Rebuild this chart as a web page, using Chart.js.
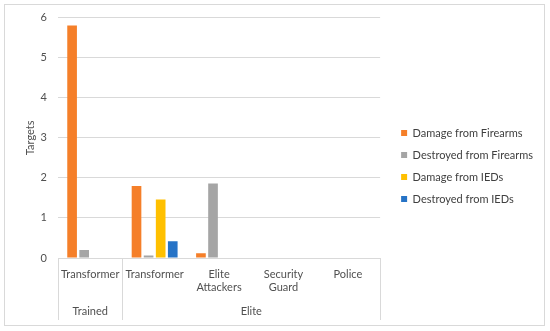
<!DOCTYPE html>
<html>
<head>
<meta charset="utf-8">
<script src="https://cdn.jsdelivr.net/npm/chart.js@4.4.1/dist/chart.umd.min.js"></script>
<style>
    body { margin: 0; background: #fff; }
    #wrap { position: relative; width: 550px; height: 331px; }
    #frame { position: absolute; left: 4px; top: 4px; width: 541px; height: 322px; border: 1px solid #d9d9d9; box-sizing: border-box; }
    #chartDiv { position: absolute; left: 0; top: 0; width: 550px; height: 331px; }
</style>
</head>
<body>
<div id="wrap">
    <div id="frame"></div>
    <div id="chartDiv"><canvas id="targetsChart"></canvas></div>
</div>
<script>
//Category labels (second row is the group each one belongs to)
const categoryLabels = ['Transformer', 'Transformer', ['Elite', 'Attackers'], ['Security', 'Guard'], 'Police'];
const groupLabels = ['Trained', 'Elite'];
const groupSizes = [1, 4];

const damageFirearms = [5.8, 1.8, 0.12, 0, 0];
const destroyedFirearms = [0.2, 0.06, 1.86, 0, 0];
const damageIEDs = [0, 1.46, 0, 0, 0];
const destroyedIEDs = [0, 0.42, 0, 0, 0];

const yTicks = [0, 1, 2, 3, 4, 5, 6];

const fontFamily = 'Lato, "Open Sans", sans-serif';
const textColor = '#505050';
const lineColor = '#d9d9d9';

//Group centres and boundaries in category units
let groupCenters = [];
let groupBounds = [0];
let start = 0;
for (let i = 0; i < groupSizes.length; i++) {
    groupCenters[i] = start + groupSizes[i] / 2;
    start += groupSizes[i];
    groupBounds.push(start);
}

const groupLines = {
    id: 'groupLines',
    afterDraw: function (chart) {
        let ctx = chart.ctx;
        let xScale = chart.scales.x;
        let gScale = chart.scales.group;
        ctx.save();
        ctx.strokeStyle = lineColor;
        ctx.lineWidth = 1;
        groupBounds.forEach(function (b) {
            let x = Math.round(xScale.getPixelForValue(b - 0.5)) + 0.5;
            ctx.beginPath();
            ctx.moveTo(x, chart.chartArea.bottom);
            ctx.lineTo(x, gScale.bottom);
            ctx.stroke();
        });
        ctx.restore();
    }
};

new Chart(document.getElementById('targetsChart'), {
    type: 'bar',
    data: {
        labels: categoryLabels,
        datasets: [
            { label: 'Damage from Firearms', data: damageFirearms, backgroundColor: '#f57f29' },
            { label: 'Destroyed from Firearms', data: destroyedFirearms, backgroundColor: '#a5a5a5' },
            { label: 'Damage from IEDs', data: damageIEDs, backgroundColor: '#ffc000' },
            { label: 'Destroyed from IEDs', data: destroyedIEDs, backgroundColor: '#2673c6' }
        ]
    },
    options: {
        responsive: true,
        maintainAspectRatio: false,
        animation: false,
        layout: { padding: { left: 20, top: 12, right: 7, bottom: 11 } },
        datasets: { bar: { categoryPercentage: 0.75, barPercentage: 0.8 } },
        plugins: {
            legend: {
                position: 'right',
                maxWidth: 220,
                labels: {
                    boxWidth: 6,
                    boxHeight: 6,
                    padding: 11,
                    color: '#404040',
                    font: { family: fontFamily, size: 11 }
                }
            },
            tooltip: { enabled: false }
        },
        scales: {
            x: {
                offset: true,
                grid: { display: false, drawTicks: false },
                border: { display: false },
                ticks: {
                    padding: 10,
                    maxRotation: 0,
                    autoSkip: false,
                    color: textColor,
                    font: { family: fontFamily, size: 11 }
                },
                afterFit: function (axis) { axis.height = 38; }
            },
            group: {
                type: 'linear',
                axis: 'x',
                position: 'bottom',
                offset: false,
                min: 0,
                max: groupBounds[groupBounds.length - 1],
                grid: { display: false, drawTicks: false },
                border: { display: false },
                afterBuildTicks: function (axis) {
                    axis.ticks = groupCenters.map(v => ({ value: v }));
                },
                ticks: {
                    padding: 9,
                    color: textColor,
                    font: { family: fontFamily, size: 11 },
                    callback: function (value, index) { return groupLabels[index]; }
                },
                afterFit: function (axis) { axis.height = 24; }
            },
            y: {
                min: 0,
                max: 6,
                afterBuildTicks: function (axis) {
                    axis.ticks = yTicks.map(v => ({ value: v }));
                },
                grid: { color: lineColor, drawTicks: false },
                border: { display: false },
                title: {
                    display: true,
                    text: 'Targets',
                    color: textColor,
                    font: { family: fontFamily, size: 11 }
                },
                ticks: {
                    padding: 11,
                    color: textColor,
                    font: { family: fontFamily, size: 11 }
                },
                afterFit: function (axis) { axis.width = 38; }
            },
            gap: {
                type: 'linear',
                axis: 'y',
                position: 'right',
                grid: { display: false },
                border: { display: false },
                ticks: { display: false },
                afterFit: function (axis) { axis.width = 10; }
            }
        }
    },
    plugins: [groupLines]
});
</script>
</body>
</html>
